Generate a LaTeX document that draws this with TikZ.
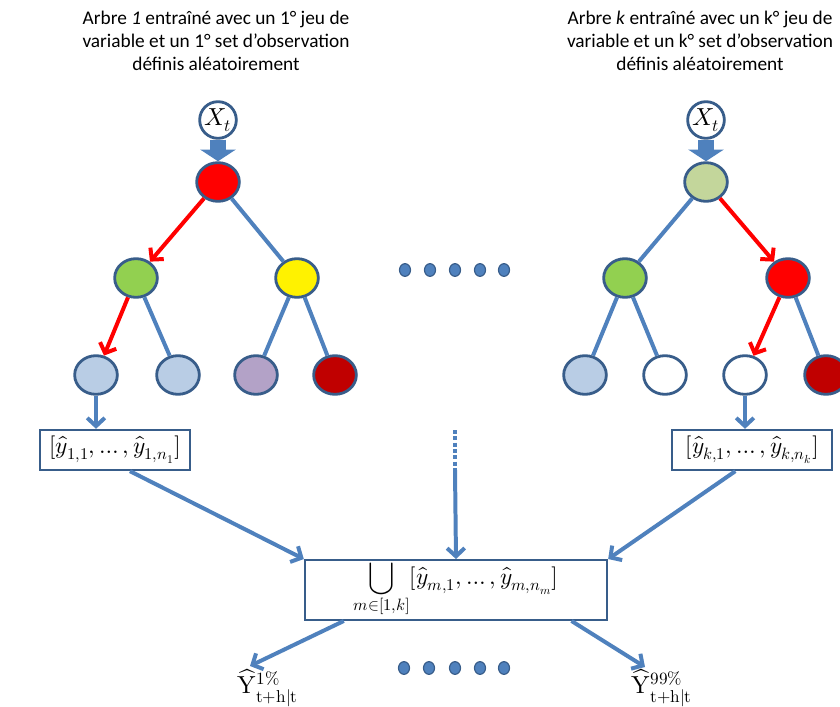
\documentclass[tikz,border=0pt]{standalone}
\usepackage{fontspec}
\usepackage{unicode-math}
\setmainfont{Carlito}
\setmathfont{Latin Modern Math}
\usetikzlibrary{arrows.meta,shapes.geometric}
\definecolor{edgeblue}{HTML}{4F81BD}
\definecolor{rimblue}{HTML}{385D8A}
\definecolor{leafblue}{HTML}{B9CDE5}
\definecolor{leafpurple}{HTML}{B3A2C7}
\definecolor{darkred}{HTML}{C00000}
\definecolor{paleolive}{HTML}{C3D69B}
\definecolor{grassgreen}{HTML}{92D050}
\tikzset{
  treenode/.style={ellipse, draw=rimblue, line width=2.4pt, minimum width=1.28cm, minimum height=1.16cm, inner sep=0pt},
  inputnode/.style={circle, draw=rimblue, line width=2.4pt, minimum size=1.1cm, inner sep=0pt, fill=white, font=\fontsize{21}{22}\selectfont},
  branch/.style={draw=edgeblue, line width=3.4pt},
  chosen/.style={draw=red, line width=3.4pt, -{Straight Barb[length=7pt,width=15pt]}},
  flow/.style={draw=edgeblue, line width=3.4pt, -{Straight Barb[length=7pt,width=15pt]}},
  feed/.style={draw=edgeblue, line width=13pt, -{Triangle[length=10pt,width=30pt]}},
  outbox/.style={rectangle, draw=rimblue, line width=2pt, minimum height=1.2cm, inner sep=2pt, font=\fontsize{20}{22}\selectfont},
  heading/.style={align=center, font=\fontsize{16.5}{19.6}\selectfont},
  bead/.style={ellipse, draw=rimblue, line width=1pt, fill=edgeblue, minimum width=0.33cm, minimum height=0.38cm, inner sep=0pt},
  quantile/.style={font=\fontsize{21}{24}\selectfont}
}
\begin{document}
\begin{tikzpicture}[x=0.03cm, y=-0.03cm]
    \useasboundingbox (0,0) rectangle (840,707);
    \node (title1) at (216,41) [heading] {Arbre \textit{1} entraîné avec un 1° jeu de\\variable et un 1° set d’observation\\définis aléatoirement};
    \node (titlek) at (700,41) [heading] {Arbre \textit{k} entraîné avec un k° jeu de\\variable et un k° set d’observation\\définis aléatoirement};

    \node (in1) at (218,120) [inputnode] {$X_t$};
    \node (root1) at (218,182) [treenode, fill=red] {};
    \node (a1) at (136,278) [treenode, fill=grassgreen] {};
    \node (b1) at (297,278) [treenode, fill=yellow] {};
    \node (l11) at (96,375) [treenode, fill=leafblue] {};
    \node (l12) at (178,375) [treenode, fill=leafblue] {};
    \node (l13) at (256,375) [treenode, fill=leafpurple] {};
    \node (l14) at (335,375) [treenode, fill=darkred] {};
    \node (box1) at (115,450) [outbox, minimum width=4.5cm] {$[\hat{y}_{1,1},\dots,\hat{y}_{1,n_1}]$};

    \node (ink) at (706,120) [inputnode] {$X_t$};
    \node (rootk) at (706,182) [treenode, fill=paleolive] {};
    \node (ak) at (625,278) [treenode, fill=grassgreen] {};
    \node (bk) at (788,278) [treenode, fill=red] {};
    \node (lk1) at (585,375) [treenode, fill=leafblue] {};
    \node (lk2) at (665,375) [treenode, fill=white] {};
    \node (lk3) at (745,375) [treenode, fill=white] {};
    \node (lk4) at (826,375) [treenode, fill=darkred] {};
    \node (boxk) at (752,450) [outbox, minimum width=4.8cm] {$[\hat{y}_{k,1},\dots,\hat{y}_{k,n_k}]$};

    \node (union) at (456,590) [outbox, minimum width=9.06cm, minimum height=1.5cm] {$\displaystyle\bigcup_{m\in[1,k]}[\widehat{y}_{m,1},\dots,\widehat{y}_{m,n_m}]$};
    \node (q1) at (268,688) [quantile] {$\widehat{\symup{Y}}^{1\%}_{\symup{t}+\symup{h}|\symup{t}}$};
    \node (q99) at (662,688) [quantile] {$\widehat{\symup{Y}}^{99\%}_{\symup{t}+\symup{h}|\symup{t}}$};
    \coordinate (midtop) at (455,430);
    \coordinate (midcut) at (455,470);
    \coordinate (q1tip) at (250,666);
    \coordinate (q99tip) at (645,667);

    \foreach \x [count=\i] in {405,430,455,480,504}
        \node (dottop\i) at (\x,270) [bead] {};
    \foreach \x [count=\i] in {404,429,455,480,504}
        \node (dotlow\i) at (\x,668) [bead] {};

    \draw[feed] (in1) to (root1);
    \draw[feed] (ink) to (rootk);

    \draw[chosen] (root1) to (a1);
    \draw[branch] (root1) to (b1);
    \draw[chosen] (a1) to (l11);
    \draw[branch] (a1) to (l12);
    \draw[branch] (b1) to (l13);
    \draw[branch] (b1) to (l14);
    \draw[flow] (l11) to (l11 |- box1.north);

    \draw[branch] (rootk) to (ak);
    \draw[chosen] (rootk) to (bk);
    \draw[branch] (ak) to (lk1);
    \draw[branch] (ak) to (lk2);
    \draw[chosen] (bk) to (lk3);
    \draw[branch] (bk) to (lk4);
    \draw[flow] (lk3) to (lk3 |- boxk.north);

    \draw[flow] ([xshift=0.45cm]box1.south) to (union.north west);
    \draw[flow] ([xshift=-0.5cm]boxk.south) to (union.north east);
    \draw[branch, dotted, line width=3pt] (midtop) to (midcut);
    \draw[flow] (midcut) to (union.north);
    \draw[flow] ([xshift=1.2cm]union.south west) to (q1tip);
    \draw[flow] ([xshift=-1.1cm]union.south east) to (q99tip);
\end{tikzpicture}
\end{document}
